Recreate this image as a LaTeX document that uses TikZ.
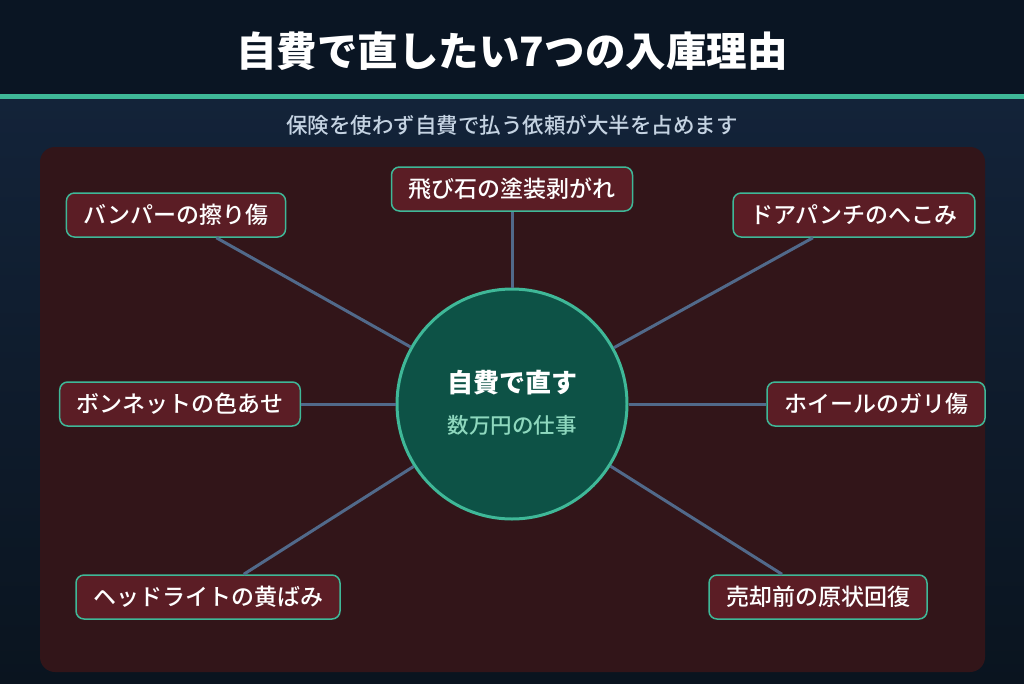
\documentclass[tikz,border=0pt]{standalone}
\usepackage{fontspec}
\setmainfont{Noto Sans CJK JP}
\newfontfamily\jpmedium{Noto Sans CJK JP Medium}
\usepackage{tikz}
\usetikzlibrary{positioning, calc}
\definecolor{hdr-dark}{HTML}{0A1523}
\definecolor{bg-top}{HTML}{132339}
\definecolor{bg-bot}{HTML}{0A141F}
\definecolor{accent}{HTML}{3FB898}
\definecolor{panel}{HTML}{321519}
\definecolor{reason}{HTML}{5B1D25}
\definecolor{hub}{HTML}{0D5246}
\definecolor{spoke}{HTML}{51698A}
\definecolor{subtxt}{HTML}{C5D3E2}
\definecolor{hubtxt}{HTML}{8ED8BE}

\begin{document}
\begin{tikzpicture}[
    x=1pt, y=-1pt,
    reasonbox/.style={rectangle, draw=accent, line width=1.5pt, rounded corners=8pt, fill=reason, minimum height=44pt, inner xsep=17pt, text=white, font=\fontsize{23}{27}\selectfont\jpmedium},
    link/.style={draw=spoke, line width=3pt}
]
    \useasboundingbox (0,0) rectangle (1024,683);
    % Hintergrund
    \fill[hdr-dark] (0,0) rectangle (1024,94);
    \shade[top color=bg-top, bottom color=bg-bot] (0,99) rectangle (1024,683);
    \fill[accent] (0,94) rectangle (1024,99);
    \fill[panel, rounded corners=15pt] (40,147) rectangle (985,672);

    \node[text=white, font=\fontsize{40.5}{46}\selectfont\bfseries] (title) at (512,51) {自費で直したい7つの入庫理由};
    \node[text=subtxt, font=\fontsize{21.5}{25}\selectfont\jpmedium] (subtitle) at (512,125) {保険を使わず自費で払う依頼が大半を占めます};

    \node[circle, draw=accent, line width=3pt, fill=hub, minimum size=230pt] (hub) at (512,404) {};
    \node[text=white, font=\fontsize{26}{30}\selectfont\bfseries] (hubtitle) at (512,383) {自費で直す};
    \node[text=hubtxt, font=\fontsize{21.5}{25}\selectfont\jpmedium] (hubsub) at (512,425) {数万円の仕事};

    \node[reasonbox] (bumper) at (176,215) {バンパーの擦り傷};
    \node[reasonbox] (chip) at (512,189) {飛び石の塗装剥がれ};
    \node[reasonbox] (door) at (854,215) {ドアパンチのへこみ};
    \node[reasonbox] (bonnet) at (180,404) {ボンネットの色あせ};
    \node[reasonbox] (wheel) at (876,404) {ホイールのガリ傷};
    \node[reasonbox] (light) at (208,597) {ヘッドライトの黄ばみ};
    \node[reasonbox] (resale) at (818,597) {売却前の原状回復};

    % Verbindungen
    \foreach \r in {bumper, chip, door, bonnet, wheel, light, resale}
        \draw[link] (hub) -- (\r);
\end{tikzpicture}
\end{document}
